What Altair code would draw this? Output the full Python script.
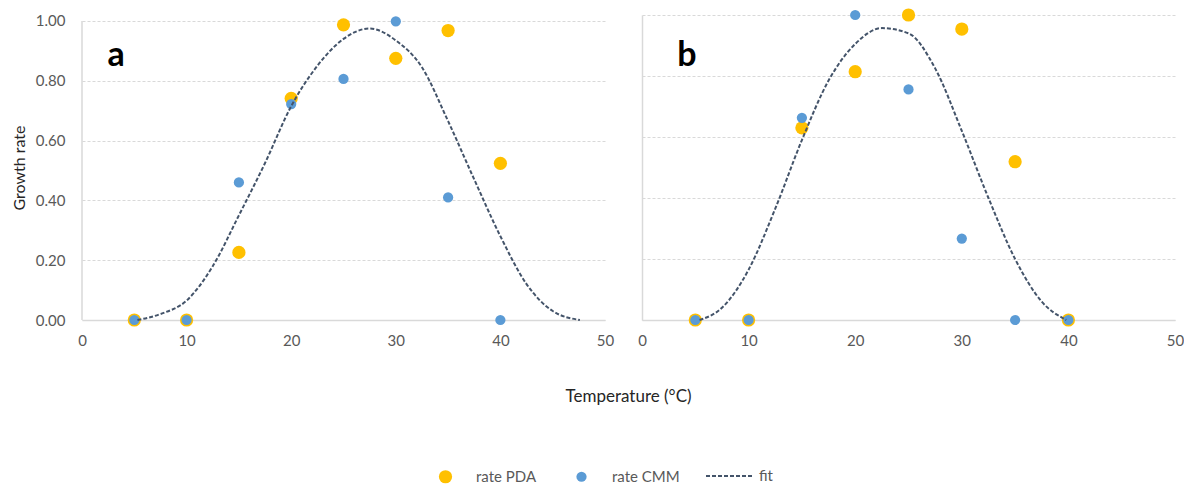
import altair as alt
import pandas as pd

# ---------------- data ----------------
temps = [5, 10, 15, 20, 25, 30, 35, 40]

pda_a = [0.0, 0.0, 0.226, 0.741, 0.987, 0.875, 0.968, 0.524]
cmm_a = [0.0, 0.0, 0.460, 0.722, 0.806, 0.999, 0.410, 0.0]

pda_b = [0.0, 0.0, 0.630, 0.814, 1.000, 0.954, 0.519, 0.0]
cmm_b = [0.0, 0.0, 0.663, 1.000, 0.756, 0.267, 0.0, 0.0]

fit_a_x = [5.3, 7.5, 10, 12.5, 15, 17.5, 20, 22.5, 25, 27.5, 30, 32.5, 35, 37.5, 40, 42.5, 45, 47.6]
fit_a_y = [0.0, 0.02, 0.065, 0.18, 0.35, 0.525, 0.715, 0.85, 0.94, 0.975, 0.935, 0.845, 0.665, 0.47, 0.28, 0.12, 0.03, 0.0]

fit_b_x = [5.4, 7.5, 10, 12.5, 15, 17.5, 20, 22.5, 25, 27.5, 30, 32.5, 35, 37.5, 39.8]
fit_b_y = [0.0, 0.04, 0.165, 0.365, 0.59, 0.785, 0.905, 0.957, 0.94, 0.825, 0.62, 0.40, 0.20, 0.06, 0.0]

series_names = ["rate PDA", "rate CMM"]
series_colors = ["#FFC000", "#5B9BD5"]
series_sizes = [175, 105]
fit_name = "fit"

x_ticks = [0, 10, 20, 30, 40, 50]
y_ticks = [0.0, 0.2, 0.4, 0.6, 0.8, 1.0]

panel_letters = ["a", "b"]

FONT = "Lato"
LABEL_COLOR = "#595959"
TITLE_COLOR = "#262626"
AXIS_LINE = "#D9D9D9"
FIT_COLOR = "#44546A"

color_legend = alt.Legend(
    title=None, orient="none", legendX=356, legendY=454, direction="horizontal",
    symbolType="circle", symbolSize=110, symbolStrokeWidth=0,
    labelFont=FONT, labelFontSize=15, labelColor=LABEL_COLOR,
    labelOffset=23, columnPadding=37,
)
dash_legend = alt.Legend(
    title=None, orient="none", legendX=623, legendY=436, direction="horizontal",
    symbolType="stroke", symbolSize=2304, symbolStrokeColor=FIT_COLOR, symbolStrokeWidth=2,
    labelFont=FONT, labelFontSize=15, labelColor=LABEL_COLOR, labelOffset=4,
)


def panel(pda, cmm, fx, fy, ydomain, height, width, letter, first):
    pts = pd.DataFrame({
        "temp": temps + temps,
        "rate": pda + cmm,
        "series": [series_names[0]] * len(temps) + [series_names[1]] * len(temps),
    })
    fit = pd.DataFrame({"temp": fx, "rate": fy, "series": [fit_name] * len(fx)})

    xaxis_kw = dict(
        values=x_ticks, grid=False, ticks=False, domainColor=AXIS_LINE, domainWidth=1.5,
        labelFlush=False, labelPadding=13, labelFont=FONT, labelFontSize=15, labelColor=LABEL_COLOR,
    )
    if first:
        xaxis = alt.Axis(title="Temperature (°C)", titleX=546, titleY=76, titleBaseline="middle",
                         titleAlign="center", titleFont=FONT, titleFontSize=17,
                         titleFontWeight="normal", titleColor=TITLE_COLOR, **xaxis_kw)
        yaxis = alt.Axis(values=y_ticks, format=".2f", grid=True, gridDash=[3, 2], gridColor=AXIS_LINE,
                         ticks=False, domain=False, labelPadding=17, labelFont=FONT, labelFontSize=15,
                         labelColor=LABEL_COLOR, title="Growth rate", titleFont=FONT, titleFontSize=16,
                         titleFontWeight="normal", titleColor=TITLE_COLOR, titlePadding=8)
    else:
        xaxis = alt.Axis(title=None, **xaxis_kw)
        yaxis = alt.Axis(values=y_ticks, grid=True, gridDash=[3, 2], gridColor=AXIS_LINE, ticks=False,
                         labels=False, title=None, domain=True, domainColor=AXIS_LINE, domainWidth=1.5)

    xs = alt.Scale(domain=[0, 50], nice=False)
    ys = alt.Scale(domain=ydomain, nice=False)

    points = alt.Chart(pts).mark_circle(opacity=1).encode(
        x=alt.X("temp:Q", scale=xs, axis=xaxis),
        y=alt.Y("rate:Q", scale=ys, axis=yaxis),
        color=alt.Color("series:N", scale=alt.Scale(domain=series_names, range=series_colors),
                        legend=color_legend),
        size=alt.Size("series:N", scale=alt.Scale(domain=series_names, range=series_sizes), legend=None),
    )
    line = alt.Chart(fit).mark_line(color=FIT_COLOR, strokeWidth=2, interpolate="monotone").encode(
        x=alt.X("temp:Q", scale=xs),
        y=alt.Y("rate:Q", scale=ys),
        strokeDash=alt.StrokeDash("series:N", scale=alt.Scale(domain=[fit_name], range=[[4, 2]]),
                                  legend=dash_legend),
    )
    lab = alt.Chart(pd.DataFrame({"label": [letter]})).mark_text(
        font=FONT, fontSize=34, fontWeight="bold", color="black", align="center", baseline="alphabetic"
    ).encode(text="label:N", x=alt.value(34 if first else 45), y=alt.value(51))

    layers = [points, line, lab]
    if first:
        edge = alt.Chart(pd.DataFrame({"x": [0], "y0": [0.0], "y1": [1.0]})).mark_rule(
            color=AXIS_LINE, strokeWidth=1.5
        ).encode(x=alt.X("x:Q", scale=xs), y=alt.Y("y0:Q", scale=ys), y2="y1:Q")
        layers = [edge] + layers
    return alt.layer(*layers).properties(width=width, height=height)


pa = panel(pda_a, cmm_a, fit_a_x, fit_a_y, [0, 1.02], 305, 523, panel_letters[0], True)
pb = panel(pda_b, cmm_b, fit_b_x, fit_b_y, [0, 1.0], 305, 533, panel_letters[1], False)

chart = alt.hconcat(pa, pb, spacing=37, bounds="flush").resolve_scale(
    x="independent", y="independent", color="shared", size="shared", strokeDash="shared"
).resolve_legend(color="shared", strokeDash="shared", size="shared").properties(
    padding={"left": 3, "top": 0, "right": 0, "bottom": 0}, background="white"
).configure_view(stroke=None)

chart.save("out.html", embed_options={"renderer": "svg", "actions": False})
